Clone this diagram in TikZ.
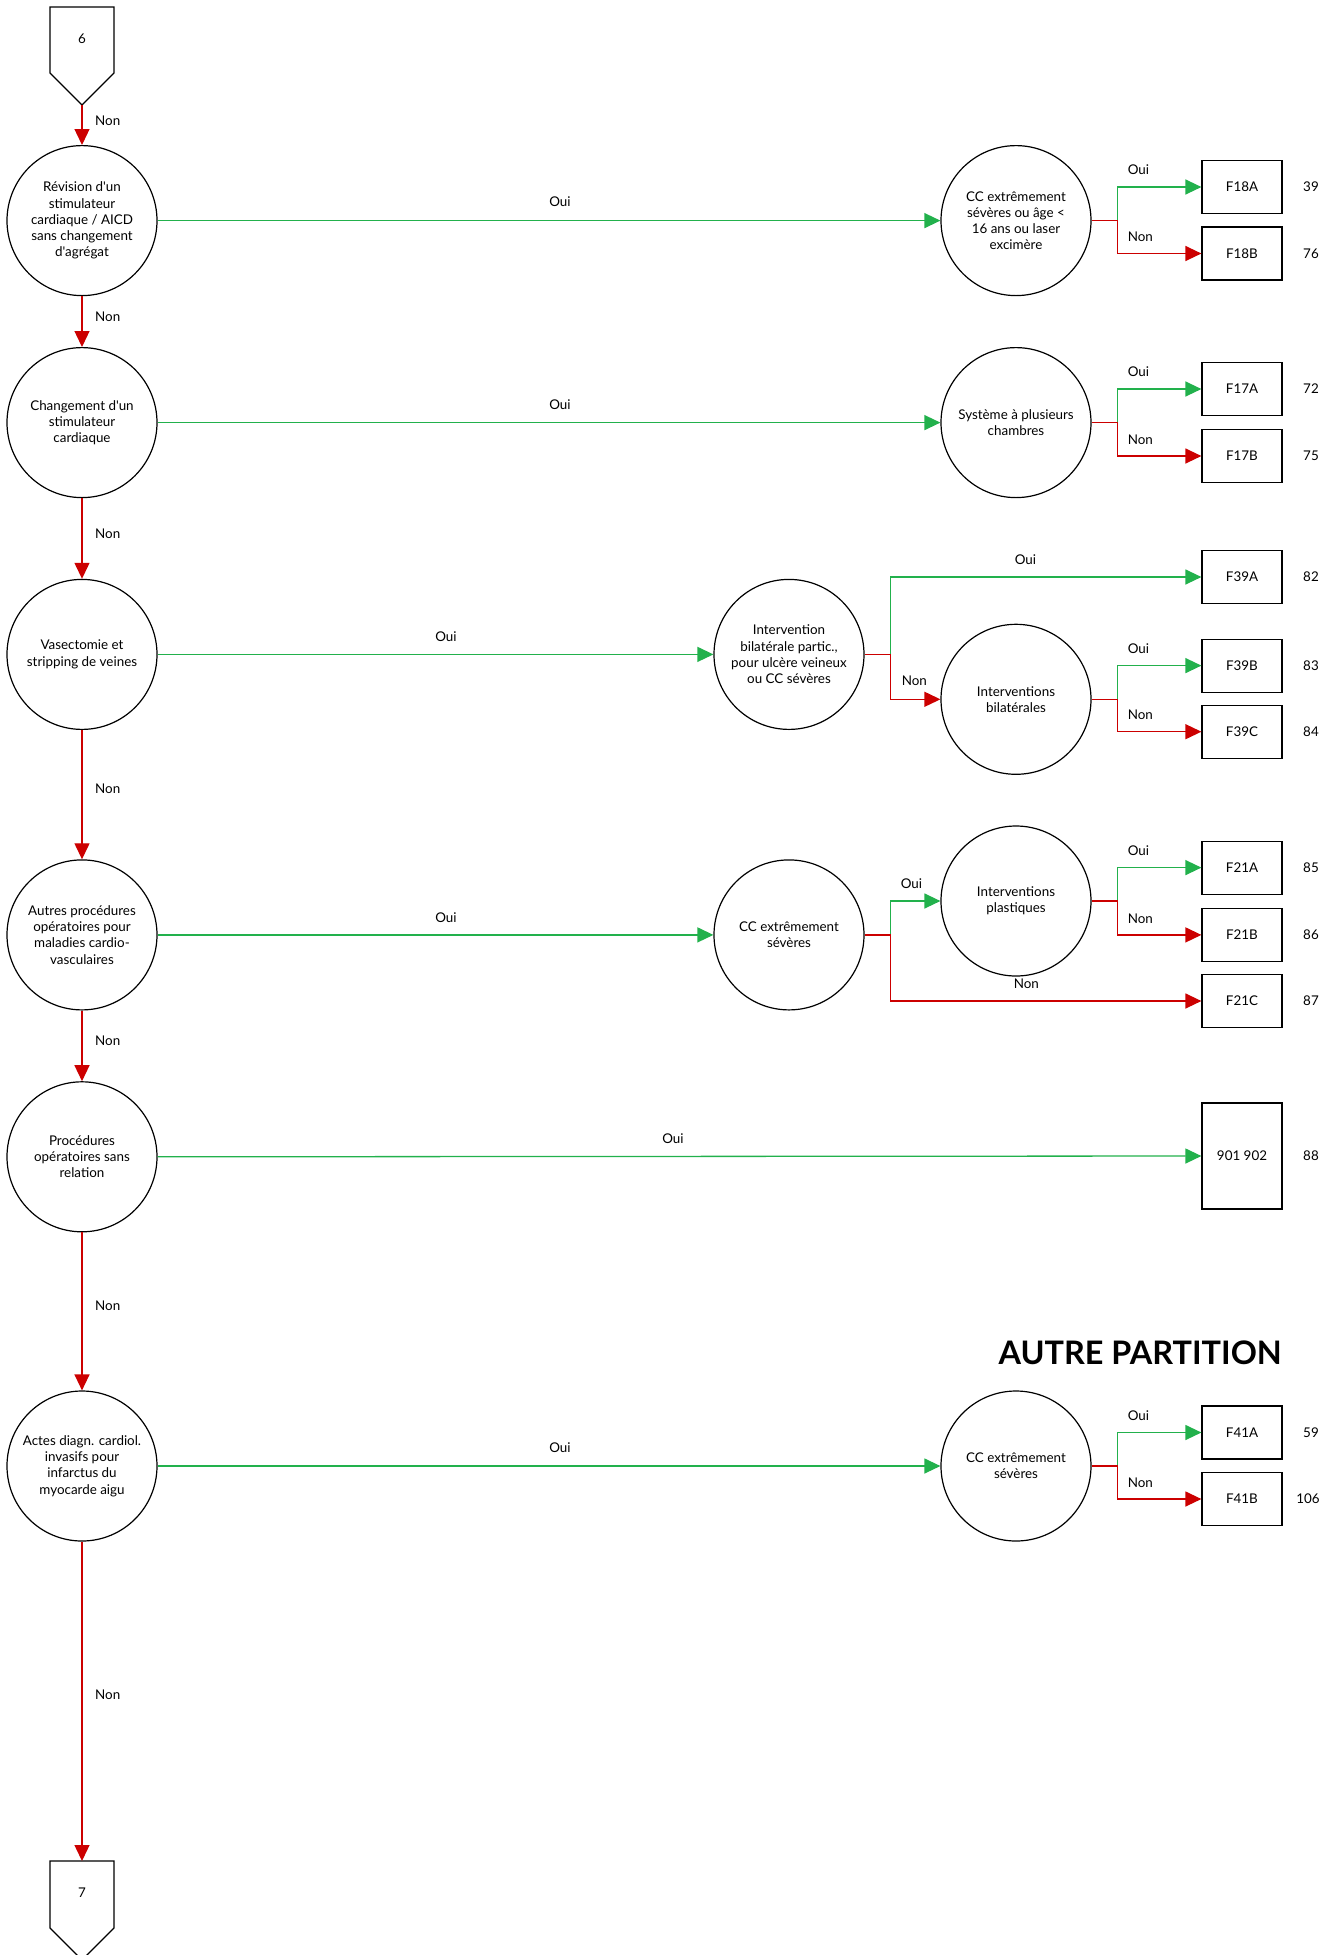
\documentclass[tikz,border=0pt]{standalone}
\usepackage{fontspec}
\setmainfont{Lato}[Ligatures=TeXOff]
\usetikzlibrary{arrows.meta,calc}
\definecolor{gr}{RGB}{34,177,76}
\definecolor{rd}{RGB}{204,0,0}
\begin{document}
\begin{tikzpicture}[x=1pt,y=-1pt,
  txt/.style={font=\fontsize{13.4}{16.2}\selectfont},
  dec/.style={draw, circle, line width=1.2pt, minimum size=150pt, inner sep=0pt, align=center, txt},
  res/.style={draw, line width=1.2pt, minimum width=80pt, minimum height=53pt, inner sep=0pt, txt},
  lab/.style={txt, inner sep=0pt},
  yes/.style={draw=gr, line width=1.3pt, -{Triangle[length=16pt,width=15pt]}},
  no/.style={draw=rd, line width=1.3pt, -{Triangle[length=16pt,width=15pt]}},
  pent/.style={draw, line width=1.2pt, line join=miter}
]
\useasboundingbox (0,0) rectangle (1335,1955);

% off-page connectors
\draw[pent] (50,7) -- (114,7) -- (114,73) -- (82,105) -- (50,73) -- cycle;
\node[lab] (p6) at (82,39) {6};
\coordinate (p6tip) at (82,105);
\draw[pent] (50,1861) -- (114,1861) -- (114,1928) -- (82,1960) -- (50,1928) -- cycle;
\node[lab] (p7) at (82,1893) {7};
\coordinate (p7top) at (82,1861);

% main column
\node[dec] (c1) at (82,220.6) {Révision d'un\\stimulateur\\cardiaque / AICD\\sans changement\\d'agrégat};
\node[dec] (c2) at (82,422.6) {Changement d'un\\stimulateur\\cardiaque};
\node[dec] (c3) at (82,654.4) {Vasectomie et\\stripping de veines};
\node[dec] (c4) at (82,934.9) {Autres procédures\\opératoires pour\\maladies cardio-\\vasculaires};
\node[dec] (c5) at (82,1156.8) {Procédures\\opératoires sans\\relation};
\node[dec] (c6) at (82,1466) {Actes diagn. cardiol.\\invasifs pour\\infarctus du\\myocarde aigu};

% secondary decisions
\node[dec] (r1) at (1016,220.6) {CC extrêmement\\sévères ou âge <\\16 ans ou laser\\excimère};
\node[dec] (r2) at (1016,422.6) {Système à plusieurs\\chambres};
\node[dec] (m3) at (789,654.4) {Intervention\\bilatérale partic.,\\pour ulcère veineux\\ou CC sévères};
\node[dec] (r3) at (1016,699.3) {Interventions\\bilatérales};
\node[dec] (m4) at (789,934.9) {CC extrêmement\\sévères};
\node[dec] (r4) at (1016,901) {Interventions\\plastiques};
\node[dec] (r6) at (1016,1466) {CC extrêmement\\sévères};

% results
\node[res] (F18A) at (1242,187) {F18A};
\node[res] (F18B) at (1242,253.5) {F18B};
\node[res] (F17A) at (1242,389) {F17A};
\node[res] (F17B) at (1242,456) {F17B};
\node[res] (F39A) at (1242,577) {F39A};
\node[res] (F39B) at (1242,665.6) {F39B};
\node[res] (F39C) at (1242,731.7) {F39C};
\node[res] (F21A) at (1242,867.6) {F21A};
\node[res] (F21B) at (1242,934.9) {F21B};
\node[res] (F21C) at (1242,1001) {F21C};
\node[res, minimum height=106pt] (B901) at (1242,1156) {901 902};
\node[res] (F41A) at (1242,1432.5) {F41A};
\node[res] (F41B) at (1242,1499) {F41B};

% numbers
\node[lab] (n39) at (1311,187) {39};
\node[lab] (n76) at (1311,253.5) {76};
\node[lab] (n72) at (1311,389) {72};
\node[lab] (n75) at (1311,456) {75};
\node[lab] (n82) at (1311,577) {82};
\node[lab] (n83) at (1311,665.6) {83};
\node[lab] (n84) at (1311,731.7) {84};
\node[lab] (n85) at (1311,867.6) {85};
\node[lab] (n86) at (1311,934.9) {86};
\node[lab] (n87) at (1311,1001) {87};
\node[lab] (n88) at (1311,1156) {88};
\node[lab] (n59) at (1311,1432.5) {59};
\node[lab] (n106) at (1308,1499) {106};

% title
\node[inner sep=0pt, anchor=east, font=\fontsize{32.4}{38}\selectfont\bfseries] (title) at (1282,1353) {AUTRE PARTITION};

% vertical Non connectors
\draw[no] (p6tip) -- (c1.north);
\draw[no] (c1.south) -- (c2.north);
\draw[no] (c2.south) -- (c3.north);
\draw[no] (c3.south) -- (c4.north);
\draw[no] (c4.south) -- (c5.north);
\draw[no] (c5.south) -- (c6.north);
\draw[no] (c6.south) -- (p7top);
\node[lab, anchor=west] (l0) at (95,121) {Non};
\node[lab, anchor=west] (l1) at (95,316.6) {Non};
\node[lab, anchor=west] (l2) at (95,533.5) {Non};
\node[lab, anchor=west] (l3) at (95,789) {Non};
\node[lab, anchor=west] (l4) at (95,1040.8) {Non};
\node[lab, anchor=west] (l5) at (95,1306) {Non};
\node[lab, anchor=west] (l6) at (95,1695) {Non};

% horizontal Oui connectors
\draw[yes] (c1.east) -- (r1.west);
\draw[yes] (c2.east) -- (r2.west);
\draw[yes] (c3.east) -- (m3.west);
\draw[yes] (c4.east) -- (m4.west);
\draw[yes] (c5.east) -- (B901.west);
\draw[yes] (c6.east) -- (r6.west);
\node[lab] (o1) at (560,202) {Oui};
\node[lab] (o2) at (560,404.5) {Oui};
\node[lab] (o3) at (446,637) {Oui};
\node[lab] (o4) at (446,917.5) {Oui};
\node[lab] (o5) at (673,1138.5) {Oui};
\node[lab] (o6) at (560,1447.5) {Oui};

% branches
\draw[yes] (r1.east) -- ++(26,0) |- (F18A.west);
\draw[no]  (r1.east) -- ++(26,0) |- (F18B.west);
\node[lab] at ($(F18A.west)+(-63,-17)$) {Oui};
\node[lab] at ($(F18B.west)+(-61,-16.5)$) {Non};

\draw[yes] (r2.east) -- ++(26,0) |- (F17A.west);
\draw[no]  (r2.east) -- ++(26,0) |- (F17B.west);
\node[lab] at ($(F17A.west)+(-63,-17)$) {Oui};
\node[lab] at ($(F17B.west)+(-61,-16.5)$) {Non};

\draw[yes] (m3.east) -- ++(26,0) |- (F39A.west);
\draw[no]  (m3.east) -- ++(26,0) |- (r3.west);
\node[lab] at ($(F39A.west)+(-176,-17)$) {Oui};
\node[lab] at ($(r3.west)+(-26,-18.5)$) {Non};

\draw[yes] (r3.east) -- ++(26,0) |- (F39B.west);
\draw[no]  (r3.east) -- ++(26,0) |- (F39C.west);
\node[lab] at ($(F39B.west)+(-63,-17)$) {Oui};
\node[lab] at ($(F39C.west)+(-61,-16.5)$) {Non};

\draw[yes] (m4.east) -- ++(26,0) |- (r4.west);
\draw[no]  (m4.east) -- ++(26,0) |- (F21C.west);
\node[lab] at ($(r4.west)+(-29,-17)$) {Oui};
\node[lab] at ($(F21C.west)+(-175,-17.5)$) {Non};

\draw[yes] (r4.east) -- ++(26,0) |- (F21A.west);
\draw[no]  (r4.east) -- ++(26,0) |- (F21B.west);
\node[lab] at ($(F21A.west)+(-63,-17)$) {Oui};
\node[lab] at ($(F21B.west)+(-61,-16.5)$) {Non};

\draw[yes] (r6.east) -- ++(26,0) |- (F41A.west);
\draw[no]  (r6.east) -- ++(26,0) |- (F41B.west);
\node[lab] at ($(F41A.west)+(-63,-17)$) {Oui};
\node[lab] at ($(F41B.west)+(-61,-16.5)$) {Non};
\end{tikzpicture}
\end{document}
